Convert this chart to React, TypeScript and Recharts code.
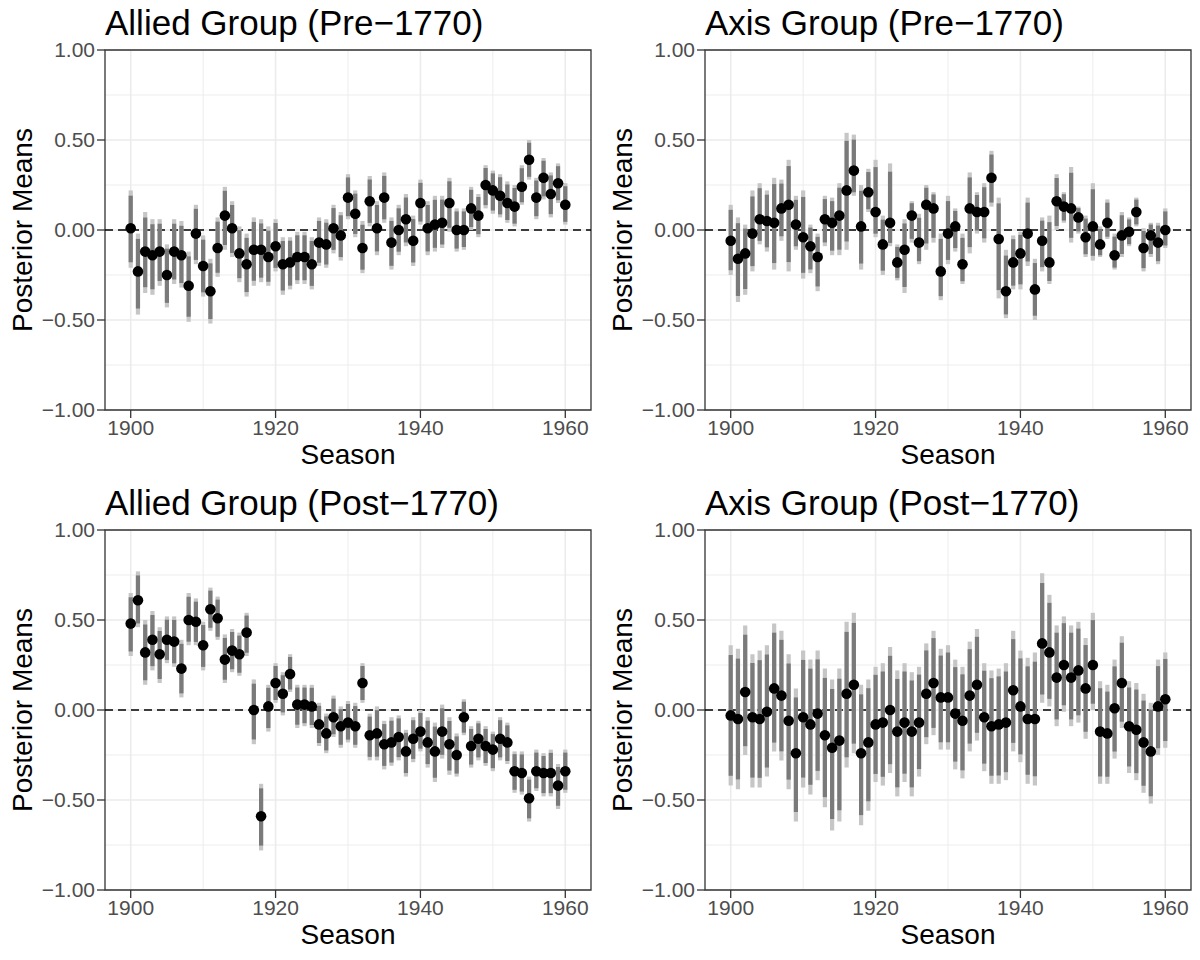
import {
  ComposedChart,
  Scatter,
  ErrorBar,
  XAxis,
  YAxis,
  CartesianGrid,
  ReferenceLine,
  ReferenceArea,
} from 'recharts';

const SEASONS = [
  1900, 1901, 1902, 1903, 1904, 1905, 1906, 1907, 1908, 1909,
  1910, 1911, 1912, 1913, 1914, 1915, 1916, 1917, 1918, 1919,
  1920, 1921, 1922, 1923, 1924, 1925, 1926, 1927, 1928, 1929,
  1930, 1931, 1932, 1933, 1934, 1935, 1936, 1937, 1938, 1939,
  1940, 1941, 1942, 1943, 1944, 1945, 1946, 1947, 1948, 1949,
  1950, 1951, 1952, 1953, 1954, 1955, 1956, 1957, 1958, 1959,
  1960,
];

const X_TICKS = [1900, 1920, 1940, 1960];
const X_MINOR = [1910, 1930, 1950];
const Y_TICKS = [-1, -0.5, 0, 0.5, 1];
const Y_MINOR = [-0.75, -0.25, 0.25, 0.75];

// Allied Group (Pre-1770)
const alliedPreMean = [
  0.01, -0.23, -0.12, -0.14, -0.12, -0.25, -0.12, -0.14, -0.31, -0.02,
  -0.20, -0.34, -0.10, 0.08, 0.01, -0.13, -0.19, -0.11, -0.11, -0.15,
  -0.09, -0.19, -0.18, -0.15, -0.15, -0.19, -0.07, -0.08, 0.01, -0.03,
  0.18, 0.09, -0.10, 0.16, 0.01, 0.18, -0.07, 0.0, 0.06, -0.06,
  0.15, 0.01, 0.03, 0.04, 0.15, 0.0, 0.0, 0.12, 0.08, 0.25,
  0.22, 0.19, 0.15, 0.13, 0.24, 0.39, 0.18, 0.29, 0.20, 0.26,
  0.14,
];
const alliedPreHi = [
  0.22, -0.02, 0.10, 0.06, 0.06, -0.08, 0.06, 0.05, -0.12, 0.14,
  -0.03, -0.16, 0.07, 0.24, 0.16, 0.02, -0.02, 0.07, 0.06, 0.02,
  0.06, -0.04, -0.04, -0.01, -0.01, -0.04, 0.07, 0.06, 0.14, 0.10,
  0.31, 0.22, 0.05, 0.30, 0.16, 0.32, 0.07, 0.14, 0.20, 0.08,
  0.28, 0.16, 0.19, 0.19, 0.29, 0.12, 0.12, 0.24, 0.20, 0.36,
  0.33, 0.31, 0.27, 0.25, 0.36, 0.50, 0.29, 0.40, 0.32, 0.37,
  0.26,
];
const alliedPreLo = [
  -0.21, -0.47, -0.35, -0.36, -0.31, -0.43, -0.30, -0.32, -0.51, -0.19,
  -0.37, -0.52, -0.26, -0.11, -0.15, -0.29, -0.37, -0.31, -0.29, -0.31,
  -0.23, -0.36, -0.33, -0.30, -0.30, -0.33, -0.20, -0.21, -0.13, -0.17,
  0.06, -0.04, -0.24, 0.02, -0.14, 0.04, -0.22, -0.14, -0.09, -0.20,
  0.03, -0.14, -0.12, -0.10, -0.01, -0.12, -0.11, 0.0, -0.04, 0.12,
  0.09, 0.07, 0.04, 0.02, 0.14, 0.28, 0.06, 0.17, 0.07, 0.15,
  0.03,
];

// Axis Group (Pre-1770)
const axisPreMean = [
  -0.06, -0.16, -0.13, -0.02, 0.06, 0.05, 0.04, 0.12, 0.14, 0.03,
  -0.04, -0.09, -0.15, 0.06, 0.04, 0.08, 0.22, 0.33, 0.02, 0.21,
  0.10, -0.08, 0.04, -0.18, -0.11, 0.08, -0.07, 0.14, 0.12, -0.23,
  -0.02, 0.02, -0.19, 0.12, 0.10, 0.10, 0.29, -0.05, -0.34, -0.18,
  -0.13, -0.02, -0.33, -0.06, -0.18, 0.16, 0.13, 0.12, 0.07, -0.04,
  0.02, -0.08, 0.04, -0.14, -0.03, -0.01, 0.10, -0.10, -0.03, -0.07,
  0.0,
];
const axisPreHi = [
  0.14, 0.07, 0.03, 0.22, 0.26, 0.22, 0.29, 0.28, 0.39, 0.19,
  0.22, 0.03, -0.02, 0.19, 0.18, 0.26, 0.54, 0.53, 0.25, 0.34,
  0.39, 0.08, 0.37, -0.08, 0.06, 0.16, 0.09, 0.25, 0.21, -0.02,
  0.19, 0.12, -0.02, 0.32, 0.21, 0.26, 0.44, 0.18, -0.11, -0.03,
  -0.01, 0.18, -0.16, 0.07, 0.08, 0.31, 0.21, 0.35, 0.13, 0.08,
  0.26, 0.02, 0.17, -0.02, 0.10, 0.07, 0.18, 0.01, 0.04, 0.04,
  0.12,
];
const axisPreLo = [
  -0.25, -0.40, -0.36, -0.23, -0.08, -0.12, -0.22, -0.06, -0.23, -0.11,
  -0.27, -0.24, -0.34, -0.09, -0.14, -0.14, -0.11, 0.19, -0.22, 0.10,
  -0.04, -0.25, -0.09, -0.28, -0.35, -0.07, -0.19, -0.11, -0.07, -0.39,
  -0.19, -0.12, -0.30, -0.13, -0.02, -0.07, 0.13, -0.38, -0.49, -0.33,
  -0.33, -0.20, -0.50, -0.23, -0.30, 0.0, 0.04, -0.07, -0.02, -0.15,
  -0.17, -0.15, -0.05, -0.22, -0.15, -0.09, 0.02, -0.23, -0.15, -0.19,
  -0.10,
];

// Allied Group (Post-1770)
const alliedPostMean = [
  0.48, 0.61, 0.32, 0.39, 0.31, 0.39, 0.38, 0.23, 0.50, 0.49,
  0.36, 0.56, 0.51, 0.28, 0.33, 0.31, 0.43, 0.0, -0.59, 0.02,
  0.15, 0.09, 0.20, 0.03, 0.03, 0.02, -0.08, -0.13, -0.04, -0.09,
  -0.07, -0.09, 0.15, -0.14, -0.13, -0.19, -0.18, -0.15, -0.23, -0.16,
  -0.12, -0.18, -0.23, -0.12, -0.19, -0.25, -0.04, -0.20, -0.16, -0.20,
  -0.22, -0.16, -0.18, -0.34, -0.35, -0.49, -0.34, -0.35, -0.35, -0.42,
  -0.34,
];
const alliedPostHi = [
  0.65, 0.77, 0.50, 0.55, 0.46, 0.52, 0.52, 0.39, 0.65, 0.62,
  0.49, 0.68, 0.63, 0.42, 0.45, 0.43, 0.54, 0.17, -0.41, 0.14,
  0.26, 0.21, 0.31, 0.14, 0.14, 0.14, 0.04, -0.02, 0.08, 0.02,
  0.05, 0.04, 0.26, -0.02, 0.02, -0.06, -0.04, -0.03, -0.11, -0.04,
  0.0, -0.04, -0.07, 0.03, -0.04, -0.13, 0.06, -0.09, -0.06, -0.09,
  -0.12, -0.04, -0.07, -0.23, -0.23, -0.37, -0.22, -0.24, -0.22, -0.30,
  -0.22,
];
const alliedPostLo = [
  0.30, 0.46, 0.14, 0.22, 0.15, 0.26, 0.24, 0.07, 0.36, 0.36,
  0.22, 0.44, 0.39, 0.15, 0.21, 0.19, 0.30, -0.19, -0.78, -0.12,
  0.04, -0.03, 0.10, -0.10, -0.09, -0.10, -0.20, -0.24, -0.15, -0.21,
  -0.18, -0.21, 0.04, -0.28, -0.28, -0.33, -0.31, -0.28, -0.37, -0.29,
  -0.23, -0.32, -0.40, -0.27, -0.36, -0.37, -0.14, -0.32, -0.28, -0.31,
  -0.34, -0.28, -0.30, -0.46, -0.47, -0.62, -0.45, -0.48, -0.48, -0.55,
  -0.46,
];

// Axis Group (Post-1770)
const axisPostMean = [
  -0.03, -0.05, 0.10, -0.04, -0.05, -0.01, 0.12, 0.08, -0.06, -0.24,
  -0.04, -0.08, -0.02, -0.14, -0.21, -0.17, 0.09, 0.14, -0.24, -0.18,
  -0.08, -0.07, 0.0, -0.12, -0.07, -0.12, -0.07, 0.09, 0.15, 0.07,
  0.07, -0.02, -0.06, 0.08, 0.14, -0.04, -0.09, -0.08, -0.07, 0.11,
  0.02, -0.05, -0.05, 0.37, 0.32, 0.18, 0.25, 0.18, 0.22, 0.12,
  0.25, -0.12, -0.13, 0.01, 0.15, -0.09, -0.11, -0.18, -0.23, 0.02,
  0.06,
];
const axisPostHi = [
  0.36, 0.34, 0.47, 0.31, 0.33, 0.36, 0.48, 0.44, 0.31, 0.12,
  0.33, 0.28, 0.33, 0.23, 0.17, 0.23, 0.49, 0.54, 0.14, 0.17,
  0.24, 0.26, 0.35, 0.22, 0.26, 0.21, 0.24, 0.37, 0.44, 0.34,
  0.36, 0.28, 0.24, 0.38, 0.45, 0.26, 0.22, 0.23, 0.26, 0.44,
  0.33, 0.29, 0.32, 0.76, 0.64, 0.47, 0.52, 0.47, 0.49, 0.40,
  0.54, 0.16, 0.14, 0.28, 0.41, 0.16, 0.15, 0.09, 0.04, 0.28,
  0.32,
];
const axisPostLo = [
  -0.42, -0.44, -0.25, -0.43, -0.43, -0.37, -0.23, -0.28, -0.44, -0.62,
  -0.43, -0.47, -0.39, -0.54, -0.67, -0.62, -0.32, -0.24, -0.64, -0.56,
  -0.40, -0.42, -0.35, -0.48, -0.40, -0.48, -0.37, -0.19, -0.14, -0.22,
  -0.22, -0.33, -0.38, -0.23, -0.17, -0.34, -0.41, -0.41, -0.39, -0.23,
  -0.29, -0.41, -0.42, 0.04, 0.02, -0.09, -0.01, -0.09, -0.07, -0.16,
  0.0, -0.41, -0.41, -0.27, -0.10, -0.35, -0.39, -0.46, -0.52, -0.25,
  -0.21,
];

// darker core of each interval bar, drawn as a share of the outer interval
const INNER_SHARE = 0.86;

const FONT = '"Liberation Sans", Arial, Helvetica, sans-serif';

const fmtY = (v: number) => (v < 0 ? '\u2212' : '') + Math.abs(v).toFixed(2);

function buildRows(mean: number[], lo: number[], hi: number[]) {
  return SEASONS.map((season, i) => ({
    season,
    mean: mean[i],
    outer: [mean[i] - lo[i], hi[i] - mean[i]],
    inner: [(mean[i] - lo[i]) * INNER_SHARE, (hi[i] - mean[i]) * INNER_SHARE],
  }));
}

const Dot = (props: any) => {
  if (props.cx == null || props.cy == null) return null;
  return <circle cx={props.cx} cy={props.cy} r={5.3} fill="#000" />;
};

interface PanelProps {
  title: string;
  mean: number[];
  lo: number[];
  hi: number[];
}

function Panel({ title, mean, lo, hi }: PanelProps) {
  const data = buildRows(mean, lo, hi);
  const tick = { fill: '#4d4d4d', fontSize: 21, fontFamily: FONT };

  return (
    <div style={{ position: 'relative', width: 600, height: 480 }}>
      <div
        style={{
          position: 'absolute',
          left: 105,
          top: 5,
          fontSize: 35,
          lineHeight: '35px',
          fontFamily: FONT,
          color: '#000',
          whiteSpace: 'nowrap',
        }}
      >
        {title}
      </div>
      <ComposedChart
        width={600}
        height={480}
        data={data}
        margin={{ top: 50, right: 9, bottom: 0, left: 0 }}
      >
        <CartesianGrid
          horizontalValues={Y_MINOR}
          verticalValues={X_MINOR}
          stroke="#ebebeb"
          strokeWidth={0.9}
        />
        <CartesianGrid
          horizontalValues={Y_TICKS}
          verticalValues={X_TICKS}
          stroke="#ebebeb"
          strokeWidth={1.6}
        />
        <XAxis
          dataKey="season"
          type="number"
          domain={[1896.45, 1963.55]}
          ticks={X_TICKS}
          allowDataOverflow
          height={70}
          axisLine={false}
          tickLine={{ stroke: '#333', strokeWidth: 1.3 }}
          tickSize={8}
          tickMargin={2}
          tick={tick}
          label={{
            value: 'Season',
            position: 'insideBottom',
            offset: 16,
            style: { fill: '#000', fontSize: 28, fontFamily: FONT },
          }}
        />
        <YAxis
          type="number"
          domain={[-1, 1]}
          ticks={Y_TICKS}
          allowDataOverflow
          width={105}
          axisLine={false}
          tickLine={{ stroke: '#333', strokeWidth: 1.3 }}
          tickSize={8}
          tickMargin={2}
          tick={tick}
          tickFormatter={fmtY}
          label={{
            value: 'Posterior Means',
            angle: -90,
            position: 'insideLeft',
            offset: 22,
            style: { fill: '#000', fontSize: 28, fontFamily: FONT, textAnchor: 'middle' },
          }}
        />
        <ReferenceLine y={0} stroke="#000" strokeWidth={1.6} strokeDasharray="8 5" />
        <Scatter dataKey="mean" shape={Dot} isAnimationActive={false}>
          <ErrorBar
            dataKey="outer"
            direction="y"
            width={0}
            stroke="#c6c6c6"
            strokeWidth={4.2}
            isAnimationActive={false}
          />
          <ErrorBar
            dataKey="inner"
            direction="y"
            width={0}
            stroke="#7a7a7a"
            strokeWidth={4.2}
            isAnimationActive={false}
          />
        </Scatter>
        <ReferenceArea
          x1={1896.45}
          x2={1963.55}
          y1={-1}
          y2={1}
          fill="none"
          fillOpacity={0}
          stroke="#333"
          strokeWidth={1.3}
        />
      </ComposedChart>
    </div>
  );
}

export default function App() {
  return (
    <div
      style={{
        position: 'absolute',
        left: 0,
        top: 0,
        width: 1200,
        height: 960,
        background: '#fff',
        display: 'grid',
        gridTemplateColumns: '600px 600px',
        gridTemplateRows: '480px 480px',
      }}
    >
      <Panel title={'Allied Group (Pre\u22121770)'} mean={alliedPreMean} lo={alliedPreLo} hi={alliedPreHi} />
      <Panel title={'Axis Group (Pre\u22121770)'} mean={axisPreMean} lo={axisPreLo} hi={axisPreHi} />
      <Panel title={'Allied Group (Post\u22121770)'} mean={alliedPostMean} lo={alliedPostLo} hi={alliedPostHi} />
      <Panel title={'Axis Group (Post\u22121770)'} mean={axisPostMean} lo={axisPostLo} hi={axisPostHi} />
    </div>
  );
}
